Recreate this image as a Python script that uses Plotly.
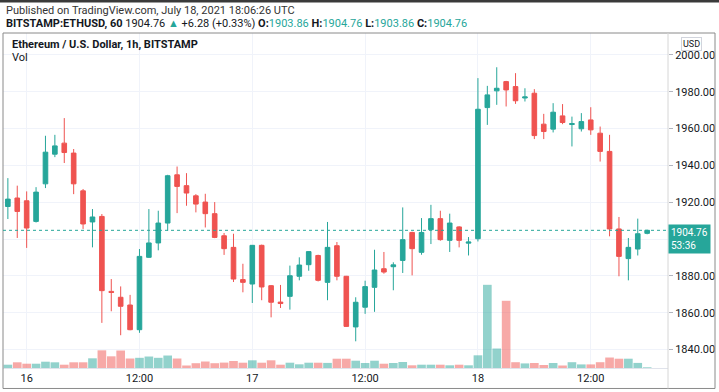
import plotly.graph_objects as go
import pandas as pd

# ---------------- data ----------------
start_time = "2021-07-15 22:00"
opens = [1917.7, 1922.3, 1920.8, 1909.6, 1930.0, 1946.1, 1952.1, 1946.7, 1926.2, 1909.3,
         1912.3, 1871.6, 1868.4, 1864.2, 1850.8, 1890.1, 1897.9, 1908.7, 1934.9, 1929.0,
         1923.5, 1920.1, 1913.8, 1901.8, 1895.5, 1878.0, 1875.6, 1896.6, 1874.7, 1865.8,
         1868.9, 1879.8, 1886.1, 1891.1, 1876.5, 1896.4, 1879.8, 1852.3, 1863.0, 1873.8,
         1883.9, 1885.0, 1888.4, 1903.6, 1892.8, 1905.1, 1911.1, 1899.3, 1906.6, 1897.8,
         1900.2, 1971.4, 1980.5, 1985.5, 1982.8, 1976.6, 1979.2, 1962.4, 1959.7, 1966.9,
         1962.2, 1959.9, 1964.7, 1957.5, 1947.6, 1905.5, 1889.4, 1894.6, 1903.1]
highs = [1933.1, 1929.0, 1925.9, 1928.2, 1956.1, 1956.6, 1965.7, 1948.9, 1927.2, 1916.3,
         1913.6, 1878.3, 1874.3, 1869.7, 1894.6, 1916.3, 1915.4, 1934.9, 1939.4, 1935.8,
         1924.4, 1924.6, 1920.1, 1903.3, 1902.9, 1886.6, 1896.8, 1897.0, 1875.0, 1875.1,
         1885.6, 1890.1, 1893.4, 1891.5, 1909.3, 1898.4, 1880.0, 1868.4, 1877.4, 1894.2,
         1893.0, 1887.4, 1917.2, 1904.0, 1911.4, 1918.6, 1915.4, 1913.8, 1907.0, 1901.1,
         1987.4, 1983.2, 1993.3, 1985.9, 1990.1, 1981.9, 1981.4, 1968.0, 1973.8, 1973.3,
         1966.5, 1968.4, 1971.6, 1961.1, 1956.6, 1912.0, 1900.6, 1911.1, 1905.0]
lows = [1910.9, 1900.6, 1895.2, 1909.0, 1927.7, 1944.5, 1941.3, 1924.4, 1905.5, 1895.5,
        1854.5, 1860.8, 1847.8, 1850.5, 1849.1, 1889.8, 1893.9, 1904.5, 1914.1, 1918.1,
        1914.5, 1906.3, 1900.5, 1891.4, 1876.7, 1871.1, 1865.3, 1866.8, 1857.5, 1862.6,
        1861.7, 1877.6, 1882.8, 1877.0, 1866.8, 1877.6, 1852.4, 1844.5, 1859.4, 1860.5,
        1881.2, 1872.2, 1881.6, 1880.3, 1891.5, 1897.3, 1899.1, 1893.0, 1895.5, 1891.1,
        1898.7, 1962.0, 1972.9, 1972.0, 1973.4, 1974.7, 1954.3, 1954.3, 1957.9, 1962.4,
        1950.3, 1958.4, 1956.6, 1942.1, 1901.5, 1879.8, 1877.6, 1891.1, 1902.6]
closes = [1921.7, 1915.0, 1906.0, 1925.5, 1947.2, 1950.6, 1947.0, 1930.0, 1908.2, 1912.0,
          1872.0, 1871.0, 1863.5, 1850.8, 1890.6, 1897.9, 1908.7, 1934.4, 1928.6, 1925.0,
          1919.0, 1913.8, 1900.9, 1894.8, 1878.3, 1876.5, 1896.6, 1874.0, 1865.7, 1865.0,
          1880.1, 1885.9, 1893.2, 1877.6, 1895.5, 1879.8, 1852.6, 1865.7, 1874.2, 1883.2,
          1882.1, 1886.0, 1899.7, 1894.8, 1903.6, 1911.1, 1899.7, 1908.7, 1899.3, 1898.4,
          1970.5, 1978.3, 1981.9, 1981.0, 1975.1, 1977.2, 1956.2, 1958.4, 1968.9, 1963.3,
          1962.7, 1963.8, 1959.3, 1947.6, 1905.5, 1890.6, 1895.5, 1902.9, 1904.76]
volumes = [3.3, 5.7, 4.3, 4.3, 6.3, 5.7, 3.3, 5.7, 5.7, 9.7,
           17.7, 11.7, 17.5, 9.5, 10.2, 11.5, 10.2, 12.5, 9.5, 2.5,
           4.8, 6.5, 4.8, 5.4, 7.0, 5.3, 7.7, 5.3, 7.7, 3.3,
           5.3, 3.7, 5.3, 5.3, 5.1, 9.3, 9.3, 7.3, 5.0, 7.3,
           4.3, 5.0, 6.0, 2.7, 3.3, 3.3, 3.3, 2.7, 3.3, 2.7,
           12.7, 83.3, 19.5, 67.3, 5.8, 4.6, 5.0, 3.0, 5.0, 2.5,
           5.8, 3.6, 3.6, 5.8, 10.5, 9.3, 9.3, 5.1, 0.7]
tick_times = ["2021-07-16 00:00", "2021-07-16 12:00", "2021-07-17 00:00",
              "2021-07-17 12:00", "2021-07-18 00:00", "2021-07-18 12:00"]
tick_text = ["16", "12:00", "17", "12:00", "18", "12:00"]
price_ticks = [1840, 1860, 1880, 1900, 1920, 1940, 1960, 1980, 2000]
price_tick_text = ["1840.00", "1860.00", "1880.00", "", "1920.00", "1940.00",
                   "1960.00", "1980.00", "2000.00"]
last_price = 1904.76
countdown = "53:36"

# ---------------- styling ----------------
UP = "#26a69a"
DOWN = "#ef5350"
UP_VOL = "rgba(38,166,154,0.5)"
DOWN_VOL = "rgba(239,83,80,0.5)"
FONT = "Liberation Sans Narrow, Roboto, sans-serif"
W, H = 719, 392
L, R, T, B = 3, 668, 33, 368.5   # plot area in pixels


def px(x):
    return (x - L) / (R - L)


def py(y):
    return (B - y) / (B - T)


times = pd.date_range(start_time, periods=len(opens), freq="h")
vol_colors = [UP_VOL if c >= o else DOWN_VOL for o, c in zip(opens, closes)]

fig = go.Figure()
fig.add_trace(go.Bar(x=times, y=volumes, marker=dict(color=vol_colors, line=dict(width=0)),
                     yaxis="y2", hoverinfo="skip", showlegend=False))
fig.add_trace(go.Candlestick(
    x=times, open=opens, high=highs, low=lows, close=closes,
    increasing=dict(line=dict(color=UP, width=1), fillcolor=UP),
    decreasing=dict(line=dict(color=DOWN, width=1), fillcolor=DOWN),
    whiskerwidth=0, showlegend=False))

fig.update_layout(
    width=W, height=H, autosize=False,
    margin=dict(l=L, r=W - R, t=T, b=H - B, pad=0),
    paper_bgcolor="white", plot_bgcolor="white",
    font=dict(family=FONT, color="#131722", size=11),
    bargap=0.08, boxgap=0.3,
    xaxis=dict(type="date",
               range=[pd.Timestamp("2021-07-15 21:29"), pd.Timestamp("2021-07-18 20:13")],
               tickvals=tick_times, ticktext=tick_text, tickangle=0,
               showgrid=True, gridcolor="#f0f3fa", gridwidth=1,
               showline=True, linecolor="#e0e3eb", linewidth=1,
               ticks="", tickfont=dict(size=11, color="#131722"),
               rangeslider=dict(visible=False), zeroline=False, fixedrange=True),
    yaxis=dict(side="right", range=[1830, 2011.9], tickvals=price_ticks,
               ticktext=price_tick_text,
               showgrid=True, gridcolor="#f0f3fa", gridwidth=1,
               ticks="outside", ticklen=4, tickcolor="#b2b5be",
               tickfont=dict(size=11, color="#131722"),
               showline=False, zeroline=False, fixedrange=True),
    yaxis2=dict(overlaying="y", range=[0, B - T], visible=False, fixedrange=True),
)

shapes = []
# top dark strip
shapes.append(dict(type="rect", xref="paper", yref="paper", x0=px(0), x1=px(W),
                   y0=py(2.5), y1=py(0), fillcolor="#3a3a3a", line=dict(width=0), layer="above"))
# chart frame
shapes.append(dict(type="rect", xref="paper", yref="paper", x0=px(3), x1=px(715),
                   y0=py(389), y1=py(33), line=dict(color="#8a8a8a", width=1),
                   fillcolor="rgba(0,0,0,0)"))
# price-scale separator
shapes.append(dict(type="line", xref="paper", yref="paper", x0=1, x1=1,
                   y0=py(389), y1=py(33), line=dict(color="#d6d6d6", width=1)))
# last price dotted line
shapes.append(dict(type="line", xref="paper", yref="y", x0=0, x1=1,
                   y0=last_price, y1=last_price, line=dict(color=UP, width=1, dash="dot")))
fig.update_layout(shapes=shapes)

ann = []
ann.append(dict(xref="paper", yref="paper", x=px(4), y=py(10), xanchor="left", yanchor="middle",
                text="Published on TradingView.com, July 18, 2021 18:06:26 UTC",
                showarrow=False, font=dict(size=11, color="#333333")))
teal = lambda s: "<span style='color:%s'>%s</span>" % (UP, s)
line2 = ("<b>BITSTAMP:ETHUSD, 60</b> 1904.76 " + teal("▲") + " +6.28 (+0.33%) "
         "<b>O:</b>" + teal("1903.86") + " <b>H:</b>" + teal("1904.76") +
         " <b>L:</b>" + teal("1903.86") + " <b>C:</b>" + teal("1904.76"))
ann.append(dict(xref="paper", yref="paper", x=px(4), y=py(23), xanchor="left", yanchor="middle",
                text=line2, showarrow=False, font=dict(size=11, color="#131722")))
ann.append(dict(xref="paper", yref="paper", x=px(10), y=py(45), xanchor="left", yanchor="middle",
                text="<b>Ethereum / U.S. Dollar, 1h, BITSTAMP</b>", showarrow=False,
                font=dict(size=11, color="#131722")))
ann.append(dict(xref="paper", yref="paper", x=px(10), y=py(58), xanchor="left", yanchor="middle",
                text="Vol", showarrow=False, font=dict(size=11, color="#131722")))
ann.append(dict(xref="paper", yref="paper", x=px(691), y=py(44.5), xanchor="center", yanchor="middle",
                text="USD", showarrow=False, font=dict(size=9, color="#131722"),
                bordercolor="#d1d4dc", borderwidth=1, borderpad=1, bgcolor="white"))
ann.append(dict(xref="paper", yref="y", x=1, y=last_price, xanchor="left", yanchor="top",
                yshift=6, text="%.2f<br>%s" % (last_price, countdown), showarrow=False,
                align="left", font=dict(size=10, color="white"), bgcolor=UP,
                borderpad=2, width=37))
fig.update_layout(annotations=ann)

fig.write_html("out.html", config={"displayModeBar": False, "staticPlot": True},
               post_script="document.body.style.margin='0';document.body.style.overflow='hidden';")
